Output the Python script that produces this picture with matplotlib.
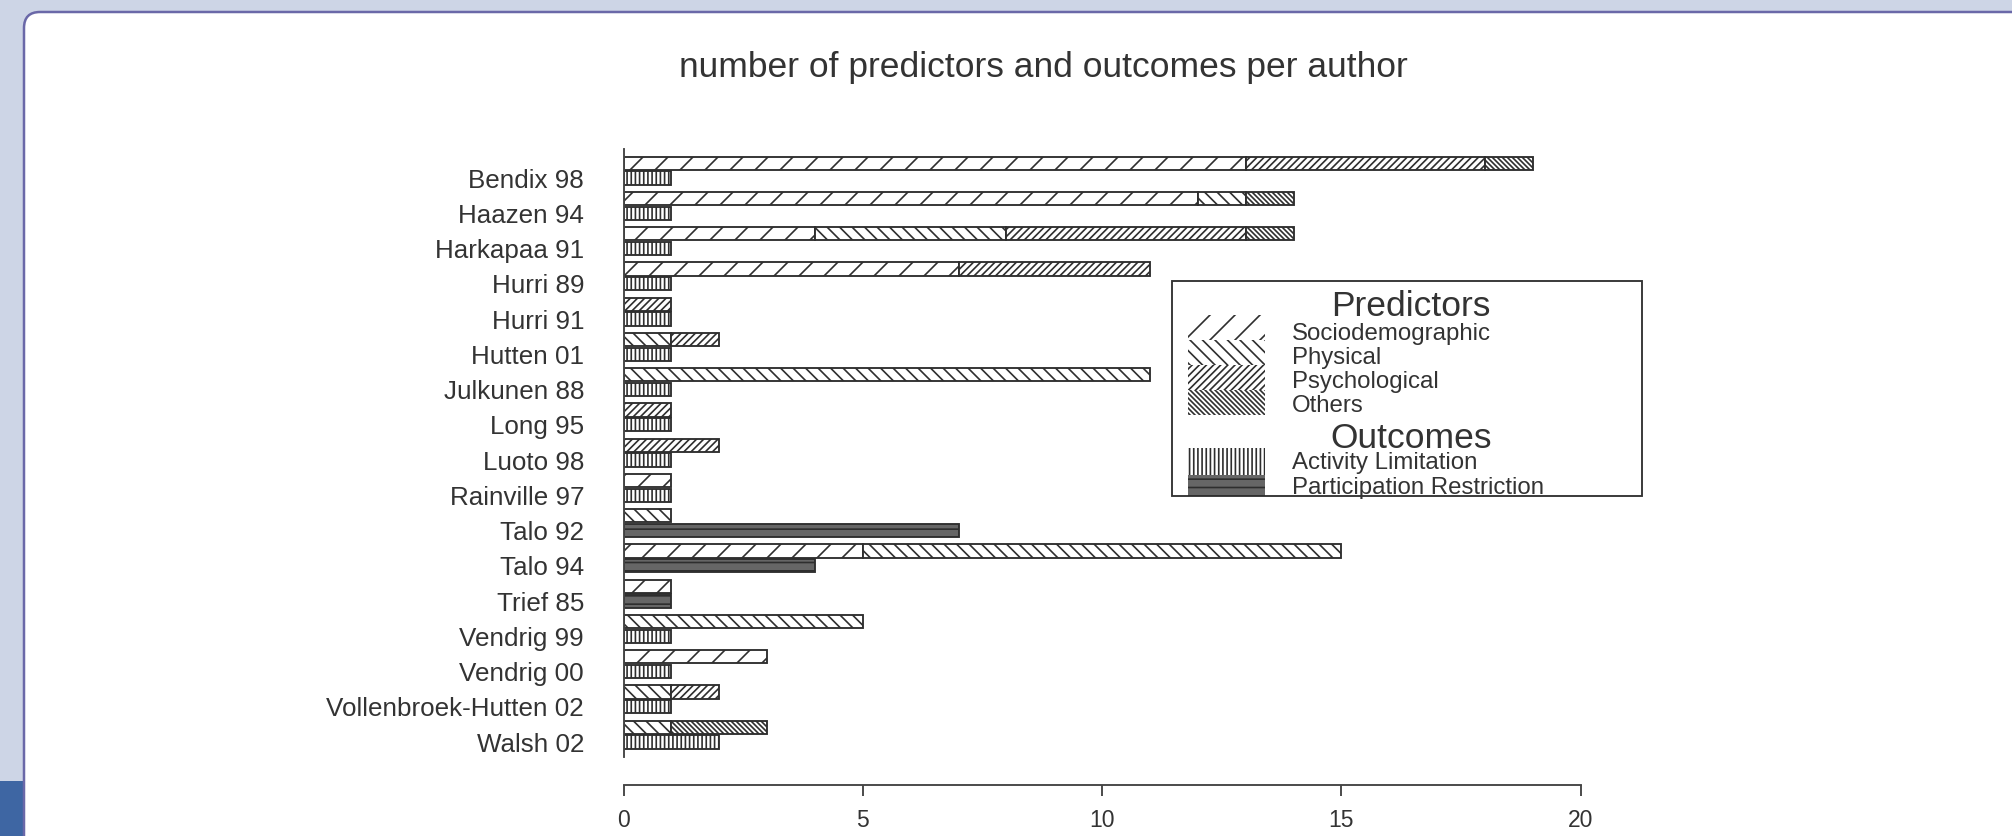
import numpy as np
import matplotlib.pyplot as plt
from matplotlib.patches import Rectangle, FancyBboxPatch
from matplotlib.transforms import IdentityTransform

authors = ['Bendix 98', 'Haazen 94', 'Harkapaa 91', 'Hurri 89', 'Hurri 91', 'Hutten 01',
           'Julkunen 88', 'Long 95', 'Luoto 98', 'Rainville 97', 'Talo 92', 'Talo 94',
           'Trief 85', 'Vendrig 99', 'Vendrig 00', 'Vollenbroek-Hutten 02', 'Walsh 02']
socio = [13, 12, 4, 7, 0, 0, 0, 0, 0, 1, 0, 5, 1, 0, 3, 0, 0]
physical = [0, 1, 4, 0, 0, 1, 11, 0, 0, 0, 1, 10, 0, 5, 0, 1, 1]
psych = [5, 0, 5, 4, 1, 1, 0, 1, 2, 0, 0, 0, 0, 0, 0, 1, 0]
others = [1, 1, 1, 0, 0, 0, 0, 0, 0, 0, 0, 0, 0, 0, 0, 0, 2]
activity = [1, 1, 1, 1, 1, 1, 1, 1, 1, 1, 0, 0, 0, 1, 1, 1, 2]
participation = [0, 0, 0, 0, 0, 0, 0, 0, 0, 0, 7, 4, 1, 0, 0, 0, 0]
xticks = [0, 5, 10, 15, 20]

DPI = 150
W, H = 2012, 836
INK = '#2e2e2e'

plt.rcParams['font.family'] = ['Liberation Sans', 'DejaVu Sans']
plt.rcParams['hatch.linewidth'] = 0.8

# hatch / fill per category (R style shading lines of different density)
pred_styles = [('Sociodemographic', socio, '//', 'white'),
               ('Physical', physical, '\\' * 4, 'white'),
               ('Psychological', psych, '/' * 7, 'white'),
               ('Others', others, '\\' * 10, 'white')]
out_styles = [('Activity Limitation', activity, '|' * 6, 'white'),
              ('Participation Restriction', participation, '---', '#666666')]


def fx(x):
    return x / W


def fy(y):
    return 1 - y / H


fig = plt.figure(figsize=(W / DPI, H / DPI), dpi=DPI, facecolor='#cdd5e6')

# page decoration: white rounded panel and the blue block bottom-left
fig.add_artist(Rectangle((0, 0), 23, 55, transform=IdentityTransform(),
                         facecolor='#3e66a3', edgecolor='none', zorder=-3))
fig.add_artist(FancyBboxPatch((24, -60), 2100, H - 12 + 60,
                              boxstyle='round,pad=0,rounding_size=16',
                              transform=IdentityTransform(),
                              facecolor='white', edgecolor='#6a68a8', linewidth=1.2,
                              zorder=-2))

ax = fig.add_axes([fx(623.6), fy(785), fx(1580.7) - fx(623.6), fy(140) - fy(785)])
ax.patch.set_visible(False)

n = len(authors)
pos = -np.arange(n)
h = 0.38

left = np.zeros(n)
for name, vals, hatch, fc in pred_styles:
    vals = np.array(vals, dtype=float)
    m = vals > 0
    ax.barh(pos[m] + 0.42, vals[m], height=h, left=left[m], color=fc,
            edgecolor=INK, hatch=hatch, linewidth=0.9)
    left += vals

left = np.zeros(n)
for name, vals, hatch, fc in out_styles:
    vals = np.array(vals, dtype=float)
    m = vals > 0
    ax.barh(pos[m], vals[m], height=h, left=left[m], color=fc,
            edgecolor=INK, hatch=hatch, linewidth=0.9)
    left += vals

ax.set_xlim(0, 20)
ax.set_ylim(-17.22, 1.08)
for s in ['top', 'right']:
    ax.spines[s].set_visible(False)
ax.spines['left'].set_bounds(-16.43, 0.83)
ax.spines['bottom'].set_bounds(0, 20)
for s in ['left', 'bottom']:
    ax.spines[s].set_color('#444444')
    ax.spines[s].set_linewidth(0.9)

ax.set_yticks(pos)
ax.set_yticklabels(authors, fontsize=12.5, color='#333333')
ax.tick_params(axis='y', length=0, pad=19)
ax.set_xticks(xticks)
ax.set_xticklabels([str(t) for t in xticks], fontsize=11, color='#333333')
ax.tick_params(axis='x', length=5.5, width=0.9, color='#444444', pad=6)

fig.text(fx(1043), fy(68), 'number of predictors and outcomes per author',
         ha='center', va='center', fontsize=17, color='#333333')

# legend box drawn by hand (two headed groups in one frame)
fig.add_artist(Rectangle((fx(1172), fy(496)), fx(1642) - fx(1172), fy(281) - fy(496),
                         transform=fig.transFigure, facecolor='white',
                         edgecolor='#333333', linewidth=0.9))
fig.text(fx(1411), fy(306), 'Predictors', ha='center', va='center',
         fontsize=17, color='#333333')
for i, (name, vals, hatch, fc) in enumerate(pred_styles):
    top = 315 + 25 * i
    fig.add_artist(Rectangle((fx(1188), fy(top + 25)), fx(1265) - fx(1188), fy(top) - fy(top + 25),
                             transform=fig.transFigure, facecolor=fc, edgecolor=INK,
                             hatch=hatch, linewidth=0))
    fig.text(fx(1292), fy(334 + 24 * i), name, ha='left', va='center',
             fontsize=11.5, color='#333333')
fig.text(fx(1411), fy(438), 'Outcomes', ha='center', va='center',
         fontsize=17, color='#333333')
for i, (name, vals, hatch, fc) in enumerate(out_styles):
    top, bot = [(448, 475), (475, 496)][i]
    fig.add_artist(Rectangle((fx(1188), fy(bot)), fx(1265) - fx(1188), fy(top) - fy(bot),
                             transform=fig.transFigure, facecolor=fc, edgecolor=INK,
                             hatch=hatch, linewidth=0))
    fig.text(fx(1292), fy(463 + 25 * i), name, ha='left', va='center',
             fontsize=11.5, color='#333333')

fig.savefig('out.png', dpi=DPI, facecolor=fig.get_facecolor())
